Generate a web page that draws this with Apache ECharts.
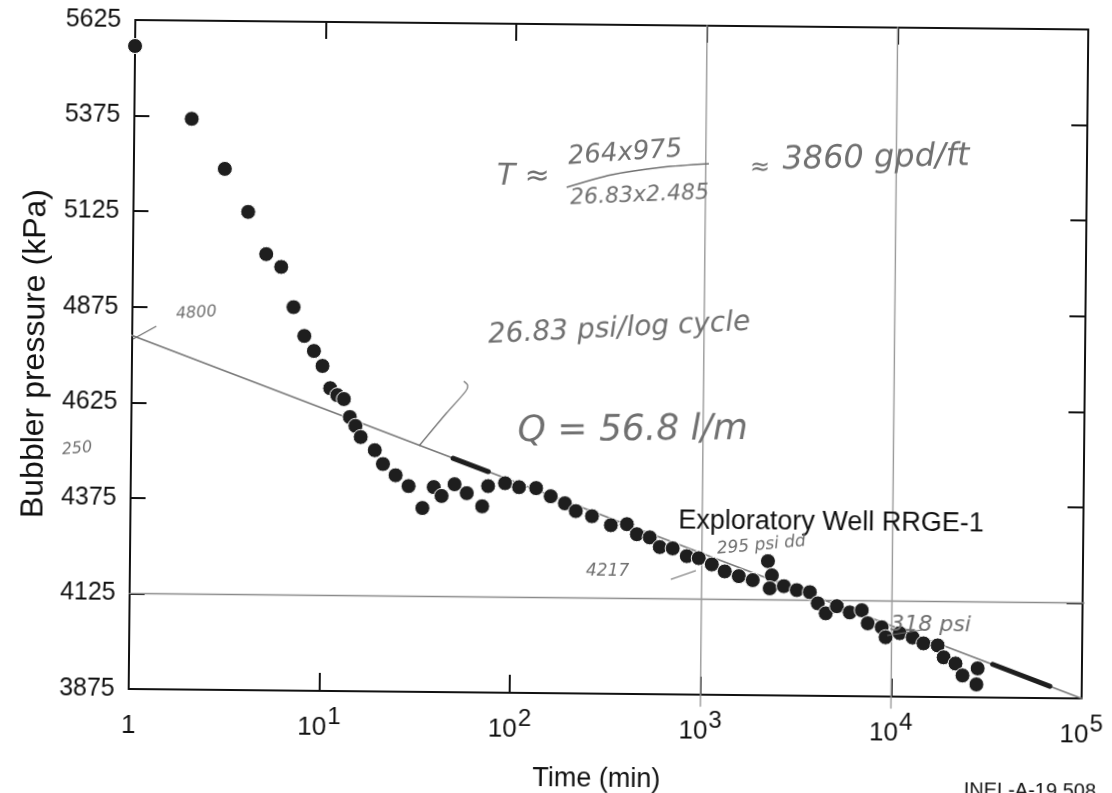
<!DOCTYPE html>
<html><head><meta charset="utf-8">
<script src="https://cdn.jsdelivr.net/npm/echarts@6/dist/echarts.min.js"></script>
<style>
html,body{margin:0;padding:0;background:#fff;overflow:hidden;width:1112px;height:793px}
#main{width:1112px;height:793px;transform:rotate(0.57deg);transform-origin:132px 355px;}
</style></head><body><div id="main"></div>
<script>
// ---- data ----
const times = [1,2,3,4,5,6,7,8,9,10,11,12,13,14,15,16,19,21,24.5,28.7,34,38.9,42.8,50,58,70,75,92,109,134,160,190,217,264,332,403,455,532,601,703,834,964,1129,1321,1567,1855,2224,2336,2280,2702,3162,3702,4080,4497,5140,6010,6950,7480,8860,9300,11020,12900,14700,17460,18790,21700,23650,28370,28000];
const pressures = [5557,5368,5238,5126,5016,4983,4878,4803,4764,4725,4667,4649,4639,4592,4569,4540,4506,4470,4441,4413,4356,4411,4388,4419,4396,4362,4415,4423,4413,4411,4390,4372,4352,4339,4316,4319,4293,4285,4260,4257,4237,4232,4216,4198,4186,4176,4226,4189,4155,4161,4151,4146,4117,4091,4110,4094,4100,4066,4056,4030,4041,4030,4015,4010,3979,3963,3932,3951,3909];
const yTicks = [3875,4125,4375,4625,4875,5125,5375,5625];
const xMin = 1, xMax = 100000;
// hand-drawn straight-line fit (4800 at t=1, 26.83 psi per log cycle)
const fitTimes = [0.85, 100000];
const fitPressures = [4813, 3875];
// bold pen strokes on the fit line
const bold1Times = [49, 75];
const bold1Pressures = [4487, 4453];
const bold2Times = [34000, 68000];
const bold2Pressures = [3962, 3906];
// hand-drawn guide lines
const vGuideTimes = [1000, 10000];
const vGuidePressures = [3845, 5625];
const hGuideTimes = [1, 140000];
const hGuidePressure = 4125;

const F = 'Liberation Sans, Arial, Helvetica, sans-serif';
const H = 'DejaVu Sans, sans-serif';
const INK = '#111';
const PEN = '#707070';

const zip = (a, b) => a.map((v, i) => [v, b[i]]);

const chart = echarts.init(document.getElementById('main'), null, {renderer: 'canvas'});

const lineSeries = (data, color, width, z) => ({
  type: 'line', data, symbol: 'none', clip: false, silent: true, z,
  lineStyle: {color, width, cap: 'round'}, animation: false
});

const series = [
  lineSeries(zip(fitTimes, fitPressures), '#7a7a7a', 1.6, 1),
  lineSeries(hGuideTimes.map(t => [t, hGuidePressure]), '#8a8a8a', 1.4, 1),
  ...vGuideTimes.map(t => lineSeries(vGuidePressures.map(p => [t, p]), '#9a9a9a', 1.4, 1)),
  {
    type: 'scatter', data: zip(times, pressures), symbol: 'circle', symbolSize: 15,
    itemStyle: {color: '#1e1e1e', borderColor: '#ffffff', borderWidth: 1, opacity: 1},
    z: 3, animation: false, clip: false
  },
  lineSeries(zip(bold1Times, bold1Pressures), '#1e1e1e', 5, 4),
  lineSeries(zip(bold2Times, bold2Pressures), '#1e1e1e', 5, 4)
];

const txt = (x, y, text, size, opts = {}) => ({
  type: 'text', x, y, rotation: opts.rot || 0, z: 10,
  style: {text, fill: opts.color || PEN, font: (opts.style || 'italic') + ' ' + (opts.weight || 'normal') + ' ' + size + 'px ' + (opts.family || H),
    textAlign: opts.align || 'left', textVerticalAlign: 'top'}
});
const pl = (pts, w) => ({type: 'polyline', z: 10, shape: {points: pts, smooth: 0.3}, style: {stroke: PEN, lineWidth: w || 1.2, fill: null}});

const graphic = [
  // printed labels
  txt(680, 502, 'Exploratory Well RRGE-1', 27, {color: INK, style: 'normal', family: F}),
  txt(968, 772, 'INEL-A-19 508', 20, {color: INK, style: 'normal', family: F}),
  // handwriting
  txt(495, 158, 'T ≈', 30),
  txt(565, 140, '264x975', 26, {rot: 0.08}),
  txt(568, 183, '26.83x2.485', 22, {rot: 0.05}),
  txt(748, 150, '≈', 24),
  txt(780, 138, '3860 gpd/ft', 32, {rot: 0.03}),
  txt(487, 318, '26.83 psi/log cycle', 28, {rot: 0.06}),
  txt(175, 306, '4800', 16, {rot: 0.08}),
  txt(518, 410, 'Q = 56.8 l/m', 36, {rot: 0.02}),
  txt(62, 443, '250', 16, {rot: 0.1}),
  txt(588, 558, '4217', 17),
  txt(718, 535, '295 psi dd', 17, {rot: 0.1}),
  txt(893, 606, '318 psi', 22),
  pl([[565, 183], [610, 170], [660, 162], [707, 158]], 1.6),
  pl([[133, 339], [156, 326]]),
  pl([[420, 443], [447, 410], [466, 388], [468, 382], [464, 378]]),
  pl([[673, 574], [698, 565]]),
  pl([[890, 628], [925, 622]])
];

const axisLine = {show: true, lineStyle: {color: INK, width: 2}};

chart.setOption({
  backgroundColor: '#ffffff',
  animation: false,
  grid: {left: 132, top: 20, right: 27, bottom: 104, containLabel: false},
  xAxis: [
    {
      type: 'log', logBase: 10, min: xMin, max: xMax, position: 'bottom',
      axisLine, splitLine: {show: false}, minorTick: {show: false},
      axisTick: {show: true, inside: true, length: 18, lineStyle: {color: INK, width: 2}},
      axisLabel: {
        margin: 20, color: INK,
        formatter: v => { const e = Math.round(Math.log10(v)); return e === 0 ? '{b|1}' : '{b|10}{s|' + e + '}'; },
        rich: {
          b: {fontSize: 26, fontFamily: F, color: INK, verticalAlign: 'bottom', lineHeight: 30},
          s: {fontSize: 24, fontFamily: F, color: INK, verticalAlign: 'bottom', lineHeight: 30, padding: [0, 0, 12, 1]}
        }
      },
      name: 'Time (min)', nameLocation: 'middle', nameGap: 72,
      nameTextStyle: {fontSize: 27, fontFamily: F, color: INK, padding: [0, 16, 0, 0]}
    },
    {
      type: 'log', logBase: 10, min: xMin, max: xMax, position: 'top',
      axisLine, splitLine: {show: false}, axisLabel: {show: false},
      axisTick: {show: true, inside: true, length: 17, lineStyle: {color: INK, width: 2}}
    }
  ],
  yAxis: [
    {
      type: 'value', min: yTicks[0], max: yTicks[yTicks.length - 1], interval: yTicks[1] - yTicks[0],
      position: 'left', axisLine, splitLine: {show: false},
      axisTick: {show: true, inside: true, length: 15, lineStyle: {color: INK, width: 2}},
      axisLabel: {margin: 14, fontSize: 25, fontFamily: F, color: INK, formatter: v => String(v)},
      name: 'Bubbler pressure (kPa)', nameLocation: 'middle', nameGap: 80,
      nameTextStyle: {fontSize: 32, fontFamily: F, color: INK}
    },
    {
      type: 'value', min: yTicks[0], max: yTicks[yTicks.length - 1], interval: yTicks[1] - yTicks[0],
      position: 'right', axisLine, splitLine: {show: false}, axisLabel: {show: false},
      axisTick: {show: true, inside: true, length: 16, lineStyle: {color: INK, width: 2}}
    }
  ],
  series,
  graphic
});
</script></body></html>
